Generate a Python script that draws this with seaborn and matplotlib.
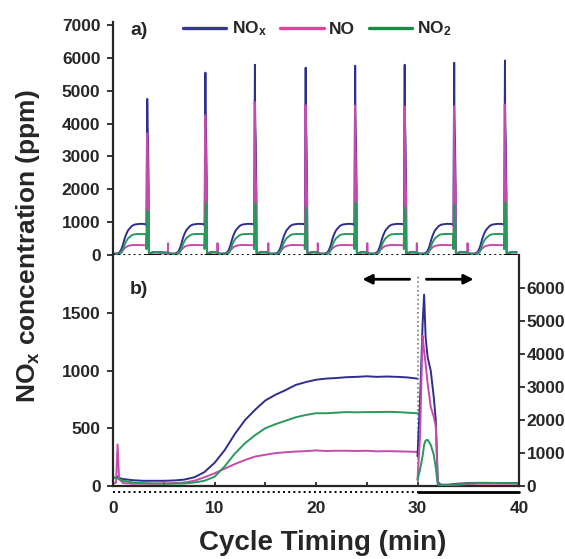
import numpy as np
import pandas as pd
import matplotlib
matplotlib.use('Agg')
import matplotlib.pyplot as plt
import matplotlib.transforms as mtransforms
from matplotlib.lines import Line2D
import seaborn as sns

# one NSR cycle (panel b): lean phase 0-30 min, left axis, ppm
t_lean = [0, 0.3, 0.45, 0.6, 1, 2, 3, 4, 5, 6, 7, 8, 9, 10, 11, 12, 13, 14, 15,
          16, 17, 18, 19, 20, 21, 22, 23, 24, 25, 26, 27, 28, 29, 30]
nox_lean = [70, 75, 80, 70, 60, 50, 45, 45, 45, 48, 55, 75, 120, 200, 310, 450, 570, 660, 740,
            790, 830, 875, 900, 920, 930, 935, 942, 945, 950, 945, 948, 945, 940, 930]
no_lean = [20, 30, 360, 60, 25, 20, 20, 20, 22, 25, 30, 45, 75, 110, 150, 190, 225, 255, 270,
           285, 292, 298, 302, 308, 303, 305, 305, 303, 305, 300, 302, 300, 298, 295]
no2_lean = [70, 70, 65, 60, 45, 30, 25, 22, 20, 20, 22, 30, 45, 80, 170, 280, 370, 440, 500,
            535, 565, 595, 615, 630, 630, 635, 640, 638, 640, 640, 642, 640, 635, 630]

# rich phase 30-40 min, right axis, ppm
t_rich = [30.0, 30.25, 30.5, 30.65, 30.8, 31.0, 31.3, 31.6, 31.8, 32.0, 32.3,
          33, 34, 35, 36, 37, 38, 39, 40]
nox_rich = [900, 2600, 4900, 5800, 4500, 3900, 3500, 2700, 2000, 120, 40,
            40, 70, 90, 95, 95, 90, 90, 90]
no_rich = [200, 1500, 4550, 4100, 3700, 3100, 2400, 2100, 1800, 90, 20,
           20, 40, 60, 70, 70, 70, 70, 70]
no2_rich = [180, 500, 900, 1250, 1380, 1400, 1250, 950, 550, 40, 20,
            20, 50, 80, 90, 90, 90, 85, 85]

# panel a: eight consecutive cycles, time of each rich peak and peak heights
peak_times = [27, 74, 114, 155, 195, 235, 275, 316]
nox_peaks = [4750, 5550, 5790, 5700, 5760, 5790, 5850, 5920]
no_peaks = [3700, 4260, 4650, 4560, 4550, 4530, 4530, 4580]
no2_peaks = [1350, 1600, 1560, 1450, 1600, 1450, 1530, 1600]

lean_end = 30
cycle_end = 40
run_end = 328

series = ['NOx', 'NO', 'NO2']
colors = {'NOx': '#2E2F8C', 'NO': '#C64BAE', 'NO2': '#27995B'}
legend_colors = {'NOx': '#34379A', 'NO': '#E8409A', 'NO2': '#1B8A45'}
labels = {'NOx': r'NO$_\mathrm{x}$', 'NO': 'NO', 'NO2': r'NO$_\mathrm{2}$'}

sns.set_style('ticks')
plt.rcParams['font.family'] = ['Liberation Sans', 'DejaVu Sans']
plt.rcParams['font.weight'] = 'bold'
plt.rcParams['mathtext.fontset'] = 'custom'
plt.rcParams['mathtext.rm'] = 'Liberation Sans:bold'
plt.rcParams['mathtext.it'] = 'Liberation Sans:bold'
plt.rcParams['mathtext.bf'] = 'Liberation Sans:bold'

lean = pd.DataFrame({'t': t_lean, 'NOx': nox_lean, 'NO': no_lean, 'NO2': no2_lean})
rich = pd.DataFrame({'t': t_rich, 'NOx': nox_rich, 'NO': no_rich, 'NO2': no2_rich})

# stitch the cycles for panel a, each with its own peak height
frames = []
for k, p in enumerate(peak_times):
    r = rich.copy()
    for s, pk in zip(series, [nox_peaks[k], no_peaks[k], no2_peaks[k]]):
        i = r[s].idxmax()
        r[s] = r[s].clip(upper=pk)
        r.loc[i, s] = pk
    c = pd.concat([lean, r], ignore_index=True)
    c['t'] = c['t'] + p - lean_end
    frames.append(c)
top = pd.concat(frames, ignore_index=True)
top_long = top.melt(id_vars='t', var_name='species', value_name='ppm')
lean_long = lean.melt(id_vars='t', var_name='species', value_name='ppm')
rich_long = rich.melt(id_vars='t', var_name='species', value_name='ppm')

fig = plt.figure(figsize=(5.65, 5.59), dpi=100)
ax_a = fig.add_axes([0.2, 0.5438, 0.7186, 0.4168])
ax_b = fig.add_axes([0.2, 0.1306, 0.7186, 0.4132])
ax_r = ax_b.twinx()

kw = dict(x='t', y='ppm', hue='species', hue_order=series, palette=colors,
          estimator=None, sort=False, lw=1.4, legend=False)
sns.lineplot(data=top_long, ax=ax_a, **kw)
sns.lineplot(data=lean_long, ax=ax_b, **kw)
sns.lineplot(data=rich_long, ax=ax_r, **kw)

# panel a
ax_a.set_xlim(0, run_end)
ax_a.set_ylim(0, 7090)
ax_a.set_yticks(range(0, 7001, 1000))
ax_a.set_xticks([])
for sp in ['top', 'right', 'bottom']:
    ax_a.spines[sp].set_visible(False)
ax_a.spines['left'].set_linewidth(1.6)
ax_a.tick_params(axis='y', direction='out', length=4, width=1.3, pad=5, labelsize=12.5)
ax_a.plot([0, run_end], [0, 0], ls=':', color='k', lw=1.4, clip_on=False)
for p in peak_times:
    ax_a.plot([p, p + cycle_end - lean_end], [0, 0], color='k', lw=2, clip_on=False)
ax_a.text(0.042, 0.962, 'a)', transform=ax_a.transAxes, fontsize=14, fontweight='bold',
          va='center', ha='left')
ax_a.set_xlabel('')
ax_a.set_ylabel('')

# panel b
ax_b.set_xlim(0, cycle_end)
ax_b.set_ylim(0, 2000)
ax_r.set_ylim(0, 7000)
ax_b.set_yticks([0, 500, 1000, 1500])
ax_r.set_yticks(range(0, 6001, 1000))
ax_b.set_xticks(range(0, 41, 10))
ax_b.set_xticks(range(5, 40, 10), minor=True)
ax_b.spines['top'].set_visible(False)
ax_b.spines['right'].set_visible(False)
for sp in ['top', 'left', 'bottom']:
    ax_r.spines[sp].set_visible(False)
for sp in ['left', 'bottom']:
    ax_b.spines[sp].set_linewidth(1.6)
ax_r.spines['right'].set_linewidth(1.6)
ax_b.tick_params(axis='y', direction='out', length=4, width=1.3, pad=5, labelsize=12.5)
ax_r.tick_params(axis='y', direction='out', length=4, width=1.3, pad=1.5, labelsize=12.5)
ax_b.tick_params(axis='x', which='both', direction='in', length=3, width=1.3, pad=11,
                 labelsize=12.5)
for a in (ax_b, ax_r):
    a.set_xlabel('')
    a.set_ylabel('')

# lean / rich phase bar under panel b
tr = mtransforms.blended_transform_factory(ax_b.transData, ax_b.transAxes)
ax_b.plot([0, lean_end], [-0.026, -0.026], ls=':', color='k', lw=1.4, transform=tr,
          clip_on=False)
ax_b.plot([lean_end, cycle_end], [-0.026, -0.026], color='k', lw=2, transform=tr,
          clip_on=False)
ax_b.axvline(lean_end, ymin=0, ymax=0.91, ls=':', color='#777777', lw=1.2)
ax_b.annotate('', xy=(24.3, 1790), xytext=(29.5, 1790),
              arrowprops=dict(arrowstyle='-|>', color='k', lw=2, mutation_scale=14))
ax_b.annotate('', xy=(35.8, 1790), xytext=(30.6, 1790),
              arrowprops=dict(arrowstyle='-|>', color='k', lw=2, mutation_scale=14))
ax_b.text(0.042, 0.85, 'b)', transform=ax_b.transAxes, fontsize=14, fontweight='bold',
          va='center', ha='left')

# legend
handles = [Line2D([], [], color=legend_colors[s], lw=2.4) for s in series]
fig.legend(handles, [labels[s] for s in series], loc='center left',
           bbox_to_anchor=(183 / 565, 1 - 29 / 559), ncol=3, frameon=False,
           fontsize=12.5, handlelength=2.5, handletextpad=0.3, columnspacing=0.8,
           borderpad=0, borderaxespad=0)

fig.text(28 / 565, 1 - 246 / 559, r'NO$_\mathrm{x}$ concentration (ppm)', rotation=90,
         fontsize=19, fontweight='bold', ha='center', va='center')
fig.text(323 / 565, 1 - 543 / 559, 'Cycle Timing (min)', fontsize=20, fontweight='bold',
         ha='center', va='center')

fig.savefig('out.png', dpi=100)
